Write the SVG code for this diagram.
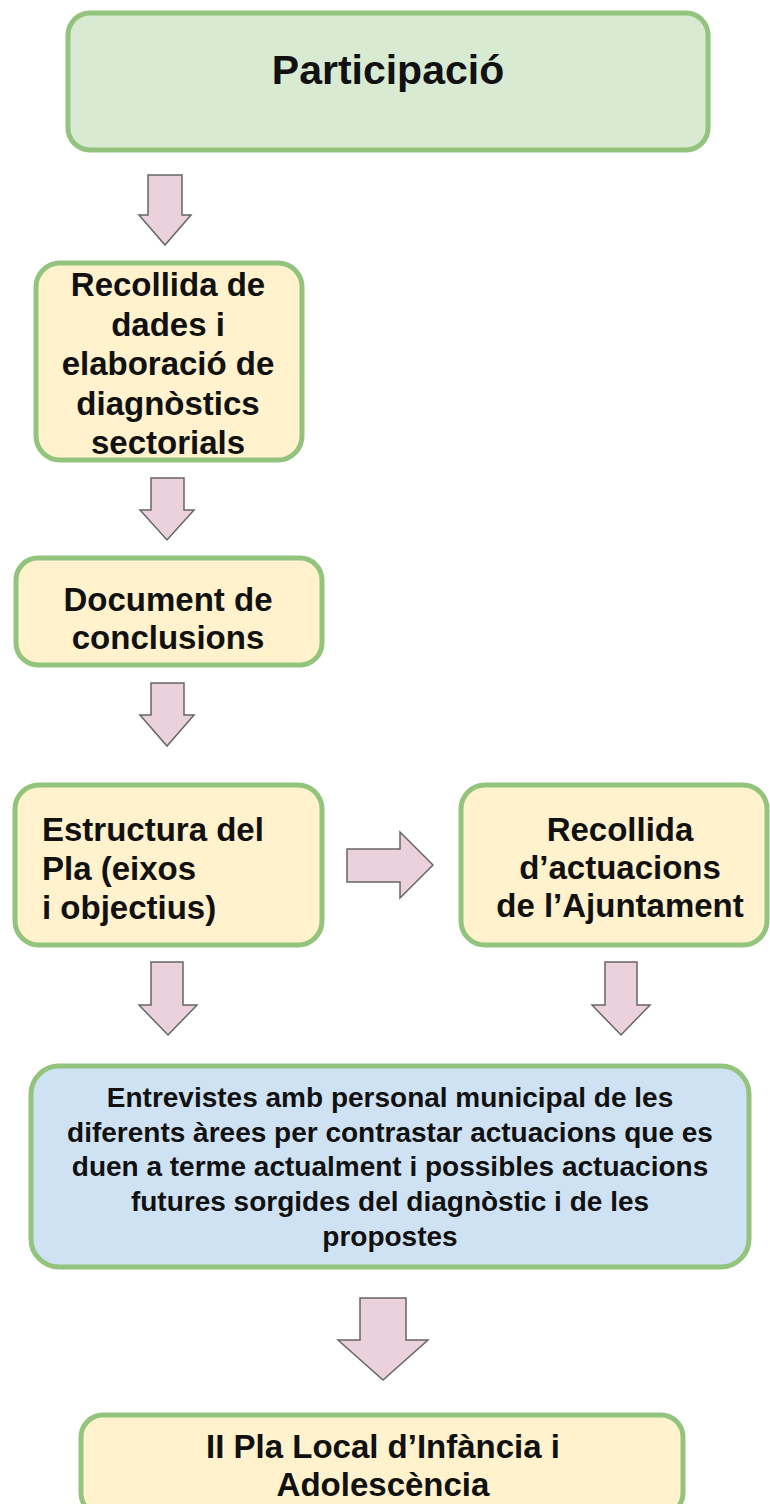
<svg xmlns="http://www.w3.org/2000/svg" width="770" height="1504" viewBox="0 0 770 1504">
<style>
.box{stroke:#93c47d;stroke-width:5}
.g{fill:#d9ead3}.y{fill:#fff2cc}.b{fill:#cfe2f3}
.arr{fill:#ead1dc;stroke:#666666;stroke-width:1.5;stroke-linejoin:miter}
text{font-family:"Liberation Sans",Arial,sans-serif;font-weight:bold;fill:#111}
.c{text-anchor:middle}
.f33{font-size:33px}.f28{font-size:28px}
</style>
<rect width="770" height="1504" fill="#ffffff"/>
<g id="n1"><rect class="box g" x="68" y="13" width="640" height="137" rx="22"/>
<text class="c" x="388" y="84" font-size="41">Participació</text></g>
<g id="n2"><rect class="box y" x="36" y="263" width="266" height="197" rx="24"/>
<text class="c f33" x="168"><tspan x="168" y="296">Recollida de</tspan><tspan x="168" y="336">dades i</tspan><tspan x="168" y="375">elaboració de</tspan><tspan x="168" y="415">diagnòstics</tspan><tspan x="168" y="454">sectorials</tspan></text></g>
<g id="n3"><rect class="box y" x="16" y="558" width="306" height="107" rx="22"/>
<text class="c f33"><tspan x="168" y="611">Document de</tspan><tspan x="168" y="649">conclusions</tspan></text></g>
<g id="n4"><rect class="box y" x="15" y="785" width="307" height="160" rx="24"/>
<text class="f33"><tspan x="42" y="841">Estructura del</tspan><tspan x="42" y="880">Pla (eixos</tspan><tspan x="42" y="919">i objectius)</tspan></text></g>
<g id="n5"><rect class="box y" x="461" y="785" width="306" height="160" rx="24"/>
<text class="c f33"><tspan x="620" y="841">Recollida</tspan><tspan x="620" y="879">d’actuacions</tspan><tspan x="620" y="917">de l’Ajuntament</tspan></text></g>
<g id="n6"><rect class="box b" x="31" y="1066" width="718" height="201" rx="28"/>
<text class="c f28"><tspan x="390" y="1107">Entrevistes amb personal municipal de les</tspan><tspan x="390" y="1142">diferents àrees per contrastar actuacions que es</tspan><tspan x="390" y="1176">duen a terme actualment i possibles actuacions</tspan><tspan x="390" y="1211">futures sorgides del diagnòstic i de les</tspan><tspan x="390" y="1246">propostes</tspan></text></g>
<g id="n7"><rect class="box y" x="81" y="1415" width="602" height="100" rx="22"/>
<text class="c f33"><tspan x="383" y="1458">II Pla Local d’Infància i</tspan><tspan x="383" y="1496">Adolescència</tspan></text></g>
<g id="connectors">
<polygon class="arr" points="148,175 182,175 182,215 191,215 165,245 139,215 148,215"/>
<polygon class="arr" points="151,478 184,478 184,510 194,510 167,540 140,510 151,510"/>
<polygon class="arr" points="151,683 184,683 184,715 194,715 167,746 140,715 151,715"/>
<polygon class="arr" points="151,962 183,962 183,1005 197,1005 168,1035 139,1005 151,1005"/>
<polygon class="arr" points="605,962 637,962 637,1005 650,1005 621,1035 592,1005 605,1005"/>
<polygon class="arr" points="347,849 400,849 400,832 433,865 400,898 400,882 347,882"/>
<polygon class="arr" points="360,1298 406,1298 406,1340 428,1340 383,1380 338,1340 360,1340"/>
</g>
</svg>
